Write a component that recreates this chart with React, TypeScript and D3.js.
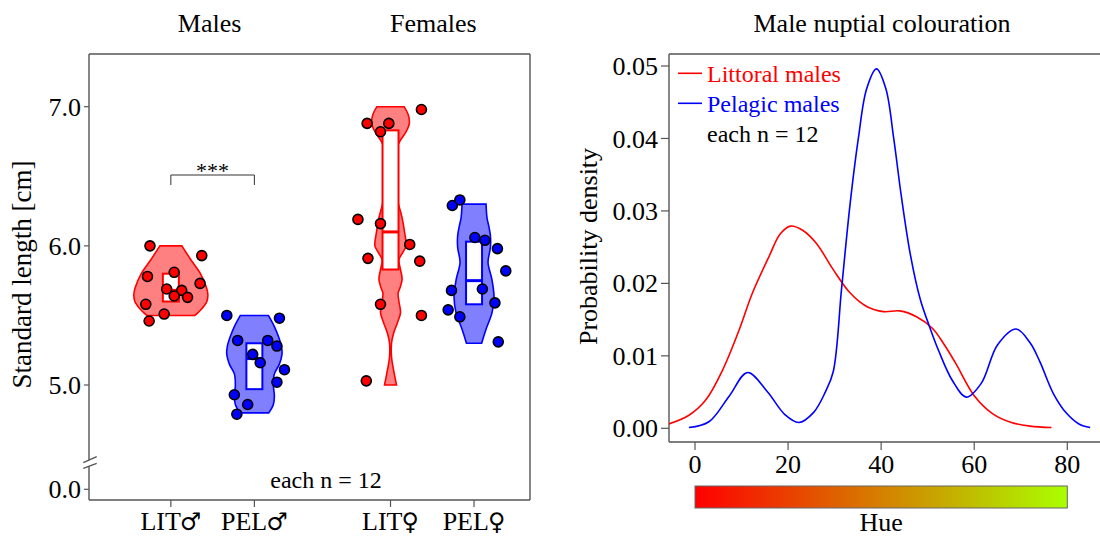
import React from "react";
import * as d3 from "d3";

// ---- data ----
const groups = ["LIT", "PEL", "LIT", "PEL"];
const sexSymbols = ["♂", "♂", "♀", "♀"];
const groupPos = [1, 2, 3.63, 4.63];
const panelTitles = ["Males", "Females"];

const litMale = [6.0, 5.93, 5.78, 5.81, 5.73, 5.69, 5.68, 5.64, 5.63, 5.58, 5.51, 5.46];
const pelMale = [5.5, 5.48, 5.32, 5.32, 5.28, 5.22, 5.16, 5.11, 5.02, 4.93, 4.86, 4.79];
const litFemale = [6.98, 6.88, 6.88, 6.82, 6.19, 6.16, 6.01, 5.91, 5.89, 5.58, 5.5, 5.03];
const pelFemale = [6.29, 6.33, 6.06, 6.04, 5.98, 5.82, 5.68, 5.69, 5.59, 5.54, 5.49, 5.31];

// horizontal jitter of the dots, in category units
const litMaleJit = [-0.25, 0.37, -0.28, 0.04, 0.35, -0.05, 0.13, 0.04, 0.2, -0.3, -0.08, -0.26];
const pelMaleJit = [-0.33, 0.3, -0.2, 0.16, 0.27, -0.02, 0.07, 0.36, 0.27, -0.24, -0.08, -0.21];
const litFemaleJit = [0.37, -0.28, -0.02, -0.12, -0.39, -0.12, 0.23, -0.27, 0.35, -0.12, 0.37, -0.29];
const pelFemaleJit = [-0.26, -0.17, 0.01, 0.13, 0.28, 0.38, -0.27, 0.1, 0.25, -0.31, -0.17, 0.29];

// violin outlines: [length, relative density]
const litMaleViolin: [number, number][] = [
  [6.0, 0.275], [5.9, 0.5], [5.8, 0.74], [5.7, 0.89], [5.65, 0.925], [5.6, 0.9], [5.55, 0.78], [5.5, 0.6],
];
const pelMaleViolin: [number, number][] = [
  [5.5, 0.35], [5.42, 0.5], [5.35, 0.6], [5.28, 0.675], [5.22, 0.69], [5.15, 0.625], [5.08, 0.5],
  [5.0, 0.475], [4.92, 0.5], [4.86, 0.475], [4.8, 0.36],
];
const litFemaleViolin: [number, number][] = [
  [7.0, 0.34], [6.94, 0.445], [6.88, 0.47], [6.82, 0.39], [6.76, 0.25], [6.7, 0.15], [6.6, 0.1],
  [6.5, 0.09], [6.4, 0.125], [6.3, 0.2], [6.2, 0.29], [6.1, 0.35], [6.0, 0.39], [5.95, 0.3],
  [5.9, 0.21], [5.83, 0.25], [5.76, 0.29], [5.7, 0.24], [5.66, 0.19], [5.6, 0.21], [5.52, 0.25],
  [5.45, 0.175], [5.37, 0.075], [5.3, 0.025], [5.2, 0.025], [5.11, 0.075], [5.0, 0.15],
];
const pelFemaleViolin: [number, number][] = [
  [6.3, 0.3], [6.2, 0.325], [6.14, 0.37], [6.07, 0.41], [5.99, 0.41], [5.88, 0.35], [5.76, 0.445],
  [5.63, 0.5], [5.52, 0.45], [5.4, 0.3], [5.3, 0.19],
];

// box: [q1, median, q3]
const boxStats: [number, number, number][] = [
  [5.6, 5.68, 5.8],
  [4.97, 5.19, 5.3],
  [5.83, 6.1, 6.83],
  [5.58, 5.75, 6.03],
];

const lengthTicks = [5.0, 6.0, 7.0];

// hue density curves: [hue, density]
const littoralDensity: [number, number][] = [
  [-5.6, 0.0006], [-1.3, 0.0018], [2.3, 0.0039], [5.9, 0.008], [9.5, 0.0136], [12.3, 0.0186],
  [15.9, 0.0237], [18.3, 0.0268], [20.5, 0.0279], [23.2, 0.0273], [26.1, 0.0255], [29.7, 0.0219],
  [33.3, 0.0187], [36.9, 0.0168], [40.5, 0.0161], [44, 0.0162], [47.6, 0.0154], [51, 0.0138],
  [53.5, 0.0116], [56, 0.009], [60, 0.0045], [64, 0.002], [68, 0.0008], [72, 0.0003], [76.6, 0.0001],
];
const pelagicDensity: [number, number][] = [
  [-1.3, 0.0001], [3, 0.0009], [7.3, 0.0044], [11.3, 0.0077], [15.6, 0.005], [19.3, 0.0019],
  [22.3, 0.0008], [25.5, 0.0022], [28, 0.005], [29.7, 0.0078], [31.5, 0.0193], [33.3, 0.0308],
  [35.1, 0.04], [36.9, 0.0469], [39, 0.0496], [41, 0.0469], [42.7, 0.04], [44.3, 0.0322],
  [46.3, 0.0239], [48.4, 0.0178], [50.3, 0.0142], [52.3, 0.0108], [55.3, 0.0066], [58.3, 0.0043],
  [61.5, 0.0062], [65, 0.0115], [69, 0.0137], [72, 0.0118], [74.1, 0.0092], [77, 0.0048],
  [79.8, 0.0021], [82.5, 0.0006], [84.9, 0.0001],
];
const densityTicks = [0, 0.01, 0.02, 0.03, 0.04, 0.05];
const hueTicks = [0, 20, 40, 60, 80];
const legendLabels = ["Littoral males", "Pelagic males"];

const FONT = "'Liberation Serif', 'Times New Roman', serif";
const AXIS = "#555";
const groupColors = ["#ff0000", "#0000ff", "#ff0000", "#0000ff"];
const violinFills = ["#ff8080", "#8080ff", "#ff8080", "#8080ff"];

export default function App() {
  // left panel
  const L = { left: 89, right: 530, top: 54, bottom: 500 };
  const x = d3.scaleLinear().domain([0.02, 5.3]).range([L.left, L.right]);
  const y = d3.scaleLinear().domain([5, 7]).range([385, 106.7]);
  const yLow = d3.scaleLinear().domain([0, 1]).range([489.3, 350]);
  const w = d3.scaleLinear().domain([0, 1]).range([0, 40]);

  const points = [litMale, pelMale, litFemale, pelFemale];
  const jitters = [litMaleJit, pelMaleJit, litFemaleJit, pelFemaleJit];
  const violins = [litMaleViolin, pelMaleViolin, litFemaleViolin, pelFemaleViolin];

  // right panel
  const R = { left: 669, top: 54, bottom: 442 };
  const xr = d3.scaleLinear().domain([0, 80]).range([695, 1067.3]);
  const yr = d3.scaleLinear().domain([0, 0.05]).range([428.3, 66]);
  const line = d3
    .line<[number, number]>()
    .x((d) => xr(d[0]))
    .y((d) => yr(d[1]))
    .curve(d3.curveCatmullRom.alpha(0.5));
  const hueColor = d3.scaleLinear<string>().domain([0, 80]).range(["#ff0000", "#aaff00"]).interpolate(d3.interpolateRgb);

  const bx = (i: number) => x(groupPos[i]);
  const malesMid = (bx(0) + bx(1)) / 2;
  const femalesMid = (bx(2) + bx(3)) / 2;

  return (
    <svg width={1100} height={537} style={{ position: "absolute", left: 0, top: 0, background: "#fff" }} fontFamily={FONT}>
      <defs>
        <linearGradient id="hueGrad" x1="0" x2="1" y1="0" y2="0">
          {d3.range(0, 81, 10).map((h) => (
            <stop key={h} offset={h / 80} stopColor={hueColor(h)} />
          ))}
        </linearGradient>
        <clipPath id="rclip">
          <rect x={R.left} y={R.top} width={1100 - R.left} height={R.bottom - R.top} />
        </clipPath>
      </defs>

      {/* ===== left panel ===== */}
      <text x={malesMid - 3} y={32} fontSize={26} textAnchor="middle">{panelTitles[0]}</text>
      <text x={femalesMid + 1} y={32} fontSize={26} textAnchor="middle">{panelTitles[1]}</text>

      <g stroke={AXIS} strokeWidth={1.4} fill="none">
        <line x1={L.left} x2={L.right} y1={L.top} y2={L.top} />
        <line x1={L.right} x2={L.right} y1={L.top} y2={L.bottom} />
        <line x1={L.left} x2={L.right} y1={L.bottom} y2={L.bottom} />
        <line x1={L.left} x2={L.left} y1={L.top} y2={460} />
        <line x1={L.left} x2={L.left} y1={466} y2={L.bottom} />
        <line x1={83.3} x2={96.7} y1={462.7} y2={456.7} />
        <line x1={83.3} x2={96.7} y1={468.3} y2={463.3} />
      </g>

      {lengthTicks.map((t) => (
        <g key={t}>
          <line x1={L.left - 5} x2={L.left} y1={y(t)} y2={y(t)} stroke={AXIS} strokeWidth={1.2} />
          <text x={L.left - 8} y={y(t)} dy="0.35em" fontSize={26} textAnchor="end">{t.toFixed(1)}</text>
        </g>
      ))}
      <line x1={L.left - 5} x2={L.left} y1={yLow(0)} y2={yLow(0)} stroke={AXIS} strokeWidth={1.2} />
      <text x={L.left - 8} y={yLow(0)} dy="0.35em" fontSize={26} textAnchor="end">{(0).toFixed(1)}</text>

      <text transform={`translate(31,${274.5}) rotate(-90)`} fontSize={27} textAnchor="middle">Standard length [cm]</text>

      {groups.map((g, i) => (
        <g key={i}>
          <line x1={bx(i)} x2={bx(i)} y1={L.bottom} y2={L.bottom + 7} stroke={AXIS} strokeWidth={1.2} />
          <text x={bx(i)} y={530} fontSize={26} textAnchor="middle">
            {g}
            <tspan fontFamily="'DejaVu Serif', serif" fontSize={24} dx={-1}>{sexSymbols[i]}</tspan>
          </text>
        </g>
      ))}

      {violins.map((v, i) => {
        const area = d3
          .area<[number, number]>()
          .y((d) => y(d[0]))
          .x0((d) => bx(i) - w(d[1]))
          .x1((d) => bx(i) + w(d[1]))
          .curve(d3.curveCatmullRom.alpha(0.5));
        return <path key={i} d={area(v) || ""} fill={violinFills[i]} stroke={groupColors[i]} strokeWidth={1.6} />;
      })}

      {boxStats.map(([q1, med, q3], i) => (
        <g key={i} stroke={groupColors[i]}>
          <rect x={bx(i) - 8} width={16} y={y(q3)} height={y(q1) - y(q3)} fill="#fff" strokeWidth={2} />
          <line x1={bx(i) - 8} x2={bx(i) + 8} y1={y(med)} y2={y(med)} strokeWidth={3} />
        </g>
      ))}

      {points.map((vals, i) =>
        vals.map((v, j) => (
          <circle
            key={`${i}-${j}`}
            cx={x(groupPos[i] + jitters[i][j])}
            cy={y(v)}
            r={5}
            fill={groupColors[i]}
            stroke="#000"
            strokeWidth={1.6}
          />
        ))
      )}

      {/* significance bracket */}
      <g stroke="#333" strokeWidth={1} fill="none">
        <polyline points={`${bx(0)},185 ${bx(0)},175 ${bx(1)},175 ${bx(1)},185`} />
      </g>
      <text x={malesMid} y={178} fontSize={22} textAnchor="middle">***</text>

      <text x={326} y={488} fontSize={24} textAnchor="middle">each n = 12</text>

      {/* ===== right panel ===== */}
      <text x={882} y={32} fontSize={26} textAnchor="middle">Male nuptial colouration</text>

      <g stroke={AXIS} strokeWidth={1.4}>
        <line x1={R.left} x2={1100} y1={R.top} y2={R.top} />
        <line x1={R.left} x2={1100} y1={R.bottom} y2={R.bottom} />
        <line x1={R.left} x2={R.left} y1={R.top} y2={R.bottom} />
      </g>

      {densityTicks.map((t) => (
        <g key={t}>
          <line x1={R.left - 8} x2={R.left} y1={yr(t)} y2={yr(t)} stroke={AXIS} strokeWidth={1.2} />
          <text x={R.left - 11} y={yr(t)} dy="0.35em" fontSize={26} textAnchor="end">{d3.format(".2f")(t)}</text>
        </g>
      ))}
      {hueTicks.map((t) => (
        <g key={t}>
          <line x1={xr(t)} x2={xr(t)} y1={R.bottom} y2={R.bottom + 8} stroke={AXIS} strokeWidth={1.2} />
          <text x={xr(t)} y={473} fontSize={26} textAnchor="middle">{t}</text>
        </g>
      ))}

      <text transform={`translate(597,${246.5}) rotate(-90)`} fontSize={26} textAnchor="middle">Probability density</text>

      <g clipPath="url(#rclip)" fill="none" strokeWidth={1.6}>
        <path d={line(littoralDensity) || ""} stroke="#ff0000" />
        <path d={line(pelagicDensity) || ""} stroke="#0000ff" />
      </g>

      {legendLabels.map((lab, i) => (
        <g key={lab}>
          <line x1={678} x2={702} y1={73.3 + i * 30} y2={73.3 + i * 30} stroke={groupColors[i]} strokeWidth={1.6} />
          <text x={707} y={81.5 + i * 30} fontSize={24} fill={groupColors[i]}>{lab}</text>
        </g>
      ))}
      <text x={707} y={141.5} fontSize={24}>each n = 12</text>

      <rect x={xr(0)} y={486} width={xr(80) - xr(0)} height={22} fill="url(#hueGrad)" stroke="#666" strokeWidth={1} />
      <text x={xr(40)} y={531} fontSize={26} textAnchor="middle">Hue</text>
    </svg>
  );
}
